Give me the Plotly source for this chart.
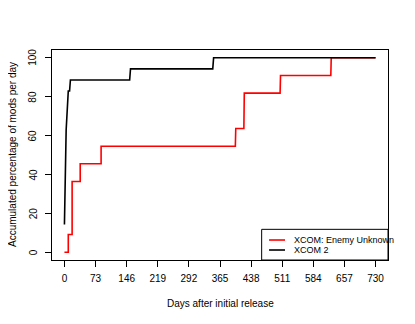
import plotly.graph_objects as go

# accumulated percentage of mods per day
eu_days = [0, 9, 9, 18, 18, 37, 37, 86, 86, 401, 402, 421, 422, 506, 507, 625, 626, 730]
eu_pct = [0, 0, 9.1, 9.1, 36.4, 36.4, 45.5, 45.5, 54.5, 54.5, 63.6, 63.6, 81.8, 81.8, 90.9, 90.9, 100, 100]

x2_days = [0, 4, 9, 12, 14, 153, 155, 348, 350, 730]
x2_pct = [14.3, 62.9, 82.9, 82.9, 88.6, 88.6, 94.3, 94.3, 100, 100]

x_ticks = [0, 73, 146, 219, 292, 365, 438, 511, 584, 657, 730]
y_ticks = [0, 20, 40, 60, 80, 100]

font_family = "Liberation Sans, Arial, sans-serif"

fig = go.Figure()
fig.add_trace(go.Scatter(x=eu_days, y=eu_pct, mode="lines", name="XCOM: Enemy Unknown",
                         line=dict(color="#ff0000", width=1.6), showlegend=False))
fig.add_trace(go.Scatter(x=x2_days, y=x2_pct, mode="lines", name="XCOM 2",
                         line=dict(color="#000000", width=1.6), showlegend=False))

axis_common = dict(showgrid=False, zeroline=False, showline=True, linecolor="#000000",
                   linewidth=1, mirror=True, ticks="outside", ticklen=6, tickcolor="#000000",
                   tickfont=dict(size=10, color="#000000", family=font_family))
fig.update_xaxes(range=[-29.2, 759.2], tickvals=x_ticks, ticklabelstandoff=3, **axis_common)
fig.update_yaxes(range=[-4, 104], tickvals=y_ticks, showticklabels=False, **axis_common)

# y tick labels, rotated and set further out like R's axis()
for v in y_ticks:
    fig.add_annotation(text=str(v), xref="paper", yref="y", x=-0.0565, y=v,
                       textangle=-90, xanchor="center", yanchor="middle", showarrow=False,
                       font=dict(size=10, color="#000000", family=font_family))

# axis titles
fig.add_annotation(text="Days after initial release", xref="paper", yref="paper",
                   x=0.5, y=-0.205, yanchor="middle", showarrow=False,
                   font=dict(size=10, color="#000000", family=font_family))
fig.add_annotation(text="Accumulated percentage of mods per day", xref="paper", yref="paper",
                   x=-0.119, y=0.5, textangle=-90, xanchor="center", showarrow=False,
                   font=dict(size=10, color="#000000", family=font_family))

# legend box, drawn like R's legend()
fig.add_shape(type="rect", xref="paper", yref="paper", x0=0.624, x1=1.0, y0=0.0, y1=0.146,
              line=dict(color="#000000", width=1), fillcolor="#ffffff")
legend_items = [("XCOM: Enemy Unknown", "#ff0000", 0.0952), ("XCOM 2", "#000000", 0.0476)]
for label, color, ly in legend_items:
    fig.add_shape(type="line", xref="paper", yref="paper", x0=0.646, x1=0.6935, y0=ly, y1=ly,
                  line=dict(color=color, width=1.6))
    fig.add_annotation(text=label, xref="paper", yref="paper", x=0.7134, y=ly,
                       xanchor="left", yanchor="middle", showarrow=False,
                       font=dict(size=9, color="#000000", family=font_family))

# page body adds an 8px offset, so margins are shifted to keep the plot box in place
fig.update_layout(width=415, height=324, margin=dict(l=44, r=35, t=42, b=72),
                  plot_bgcolor="#ffffff", paper_bgcolor="#ffffff",
                  font=dict(family=font_family))
fig.write_html("out.html")
